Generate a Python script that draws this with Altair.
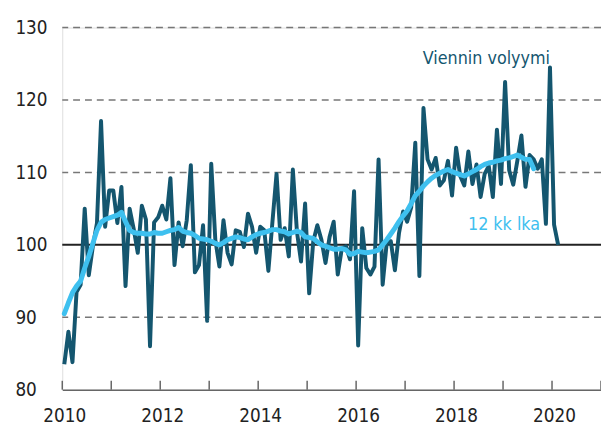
import altair as alt
import pandas as pd

# Monthly export volume index, Jan 2010 .. Feb 2020
volume = [
    83.5, 88.0, 83.8, 93.5, 94.5, 105.0, 95.8, 99.8, 103.0, 117.1, 102.5, 107.5,
    107.5, 103.0, 108.0, 94.3, 105.0, 102.2, 98.9, 105.4, 103.5, 86.0, 103.1, 103.8,
    105.4, 103.5, 109.2, 97.2, 103.1, 99.8, 103.4, 111.0, 96.2, 97.2, 102.7, 89.5,
    111.2, 100.7, 97.0, 103.4, 98.9, 97.3, 102.0, 101.8, 99.7, 104.3, 102.5, 98.9,
    102.5, 102.0, 96.4, 103.2, 109.8, 100.7, 102.3, 98.4, 110.4, 101.8, 97.7, 105.7,
    93.3, 100.5, 102.7, 100.7, 97.5, 101.1, 103.2, 95.9, 99.5, 99.8, 98.0, 107.4,
    86.1, 102.3, 96.8, 95.9, 97.0, 111.8, 94.5, 100.3, 100.5, 96.5, 101.6, 104.6,
    103.2, 105.2, 114.1, 95.7, 118.9, 111.8, 110.4, 112.0, 108.2, 108.9, 111.6, 106.8,
    113.4, 109.5, 108.2, 112.9, 108.4, 111.1, 106.6, 109.8, 110.9, 106.6, 115.9, 108.4,
    122.5, 110.3, 108.3, 111.6, 115.1, 108.0, 112.4, 111.8, 110.5, 111.8, 102.9, 124.5,
    102.8, 100.0,
]

# 12-month moving average as drawn, Jan 2010 .. Aug 2019
ma12 = [
    90.5, 92.0, 93.4, 94.3, 95.0, 96.8, 98.4, 100.2, 102.0, 103.1, 103.5, 103.7,
    103.9, 104.1, 104.5, 103.2, 102.0, 101.7, 101.6, 101.6, 101.5, 101.5, 101.7, 101.6,
    101.6, 101.8, 102.0, 102.1, 102.4, 101.9, 101.7, 101.6, 101.3, 100.9, 100.8, 100.7,
    100.5, 100.2, 100.0, 100.3, 100.7, 100.9, 101.1, 101.0, 100.8, 100.7, 101.1, 101.4,
    101.6, 101.7, 101.9, 102.1, 102.1, 101.9, 101.8, 101.5, 101.7, 101.9, 101.7, 101.1,
    101.0, 100.9, 100.4, 100.0, 99.8, 99.6, 99.4, 99.4, 99.5, 99.3, 98.7, 98.8,
    99.1, 99.0, 98.9, 99.0, 99.1, 99.3, 100.0, 100.7, 101.5, 102.3, 103.2, 104.0,
    104.7, 105.7, 106.8, 107.4, 108.1, 108.7, 109.2, 109.6, 109.9, 110.2, 110.4, 110.1,
    109.9, 109.7, 109.5, 109.8, 110.1, 110.4, 110.8, 111.1, 111.3, 111.4, 111.6, 111.7,
    111.9, 112.0, 112.2, 112.4, 112.1, 111.8, 111.8, 110.5,
]

start_year = 2010
tick_years = list(range(2010, 2022))
label_years = [2010, 2012, 2014, 2016, 2018, 2020]
y_labels = [80, 90, 100, 110, 120, 130]
dashed_levels = [90, 110, 120, 130]
solid_level = [100]

labels = ["Viennin volyymi", "12 kk lka"]
label_x = [2018.66, 2019.02]
label_y = [125.6, 102.7]

DARK = "#14566f"
LIGHT = "#3ec0ef"
FONT = "DejaVu Sans Condensed"

df_vol = pd.DataFrame({"t": [start_year + (i + 0.5) / 12 for i in range(len(volume))], "v": volume})
df_ma = pd.DataFrame({"t": [start_year + (i + 0.5) / 12 for i in range(len(ma12))], "v": ma12})

xs = alt.Scale(domain=[2010, 2021], nice=False, zero=False)
ys = alt.Scale(domain=[80, 130], nice=False, zero=False)

x_axis = alt.Axis(values=label_years, format="d", grid=False, ticks=False,
                  domainColor="#666666", domainWidth=1.5, labelFontSize=19,
                  labelFont=FONT, labelColor="#222222", labelPadding=17,
                  title=None, labelFlush=False, labelOffset=2)
y_axis = alt.Axis(values=y_labels, grid=False, ticks=False, domain=False,
                  labelFontSize=19, labelFont=FONT, labelColor="#222222",
                  labelPadding=48, title=None, labelAlign="left")

base_x = alt.X("t:Q", scale=xs, axis=x_axis)

grid = alt.Chart(pd.DataFrame({"g": dashed_levels})).mark_rule(
    color="#777777", strokeWidth=1.5, strokeDash=[7, 5]
).encode(y=alt.Y("g:Q", scale=ys, axis=y_axis))

zero_line = alt.Chart(pd.DataFrame({"g": solid_level})).mark_rule(
    color="#222222", strokeWidth=2
).encode(y=alt.Y("g:Q", scale=ys))

ticks = alt.Chart(pd.DataFrame({"t": tick_years})).mark_rule(
    color="#666666", strokeWidth=1.5
).encode(x=alt.X("t:Q", scale=xs, axis=x_axis), y=alt.value(367), y2=alt.value(358))

vol_line = alt.Chart(df_vol).mark_line(
    color=DARK, strokeWidth=4, strokeJoin="round"
).encode(x=base_x, y=alt.Y("v:Q", scale=ys))

ma_line = alt.Chart(df_ma).mark_line(
    color=LIGHT, strokeWidth=5, strokeJoin="round", strokeCap="round"
).encode(x=base_x, y=alt.Y("v:Q", scale=ys))

df_txt = pd.DataFrame({"t": label_x, "v": label_y, "s": labels, "c": [DARK, LIGHT]})
texts = alt.Chart(df_txt).mark_text(
    font=FONT, fontSize=18, align="center", baseline="middle"
).encode(x=alt.X("t:Q", scale=xs), y=alt.Y("v:Q", scale=ys), text="s:N",
         color=alt.Color("c:N", scale=None))

chart = alt.layer(grid, zero_line, ticks, vol_line, ma_line, texts).properties(
    width=546, height=367,
    autosize=alt.AutoSizeParams(type="none"),
    padding={"left": 55, "top": 17, "right": 0, "bottom": 35},
).configure_view(stroke=None).configure(background="white")

chart.save("out.html", embed_options={"renderer": "svg", "actions": False})
